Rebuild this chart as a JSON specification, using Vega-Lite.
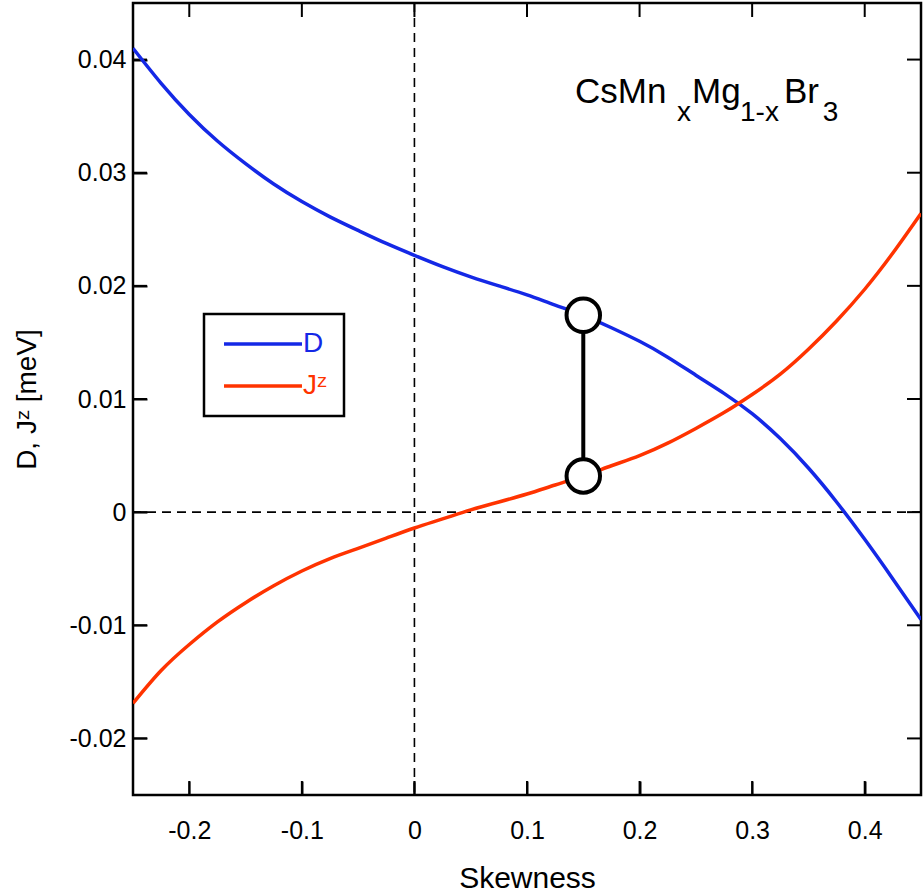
{
  "$schema": "https://vega.github.io/schema/vega-lite/v6.json",
  "width": 788,
  "height": 792,
  "autosize": {"type": "none"},
  "padding": {"left": 133, "top": 3, "right": 2, "bottom": 101},
  "background": "white",
  "config": {
    "font": "Liberation Sans",
    "view": {"stroke": "black", "strokeWidth": 2.5},
    "axis": {"grid": false, "domain": false, "zindex": 1, "labelColor": "black", "titleColor": "black", "labelFont": "Liberation Sans", "titleFont": "Liberation Sans", "titleFontWeight": "normal"}
  },
  "datasets": {
    "curves": [
      {"s": -0.25, "v": 0.0410, "series": "D"},
      {"s": -0.225, "v": 0.0379, "series": "D"},
      {"s": -0.2, "v": 0.03515, "series": "D"},
      {"s": -0.175, "v": 0.0328, "series": "D"},
      {"s": -0.15, "v": 0.0308, "series": "D"},
      {"s": -0.125, "v": 0.0290, "series": "D"},
      {"s": -0.1, "v": 0.02745, "series": "D"},
      {"s": -0.075, "v": 0.0261, "series": "D"},
      {"s": -0.05, "v": 0.0249, "series": "D"},
      {"s": -0.025, "v": 0.02375, "series": "D"},
      {"s": 0.0, "v": 0.0227, "series": "D"},
      {"s": 0.025, "v": 0.0217, "series": "D"},
      {"s": 0.05, "v": 0.0208, "series": "D"},
      {"s": 0.075, "v": 0.0200, "series": "D"},
      {"s": 0.1, "v": 0.0192, "series": "D"},
      {"s": 0.125, "v": 0.0183, "series": "D"},
      {"s": 0.15, "v": 0.0174, "series": "D"},
      {"s": 0.175, "v": 0.0163, "series": "D"},
      {"s": 0.2, "v": 0.0151, "series": "D"},
      {"s": 0.225, "v": 0.0137, "series": "D"},
      {"s": 0.25, "v": 0.0121, "series": "D"},
      {"s": 0.275, "v": 0.0105, "series": "D"},
      {"s": 0.3, "v": 0.0087, "series": "D"},
      {"s": 0.325, "v": 0.0065, "series": "D"},
      {"s": 0.35, "v": 0.0039, "series": "D"},
      {"s": 0.375, "v": 0.0009, "series": "D"},
      {"s": 0.4, "v": -0.0024, "series": "D"},
      {"s": 0.425, "v": -0.0059, "series": "D"},
      {"s": 0.45, "v": -0.0095, "series": "D"},
      {"s": -0.25, "v": -0.0169, "series": "Jᶻ"},
      {"s": -0.225, "v": -0.0140, "series": "Jᶻ"},
      {"s": -0.2, "v": -0.0117, "series": "Jᶻ"},
      {"s": -0.175, "v": -0.0097, "series": "Jᶻ"},
      {"s": -0.15, "v": -0.0080, "series": "Jᶻ"},
      {"s": -0.125, "v": -0.0065, "series": "Jᶻ"},
      {"s": -0.1, "v": -0.0052, "series": "Jᶻ"},
      {"s": -0.075, "v": -0.0041, "series": "Jᶻ"},
      {"s": -0.05, "v": -0.0032, "series": "Jᶻ"},
      {"s": -0.025, "v": -0.0023, "series": "Jᶻ"},
      {"s": 0.0, "v": -0.0014, "series": "Jᶻ"},
      {"s": 0.025, "v": -0.0006, "series": "Jᶻ"},
      {"s": 0.05, "v": 0.0002, "series": "Jᶻ"},
      {"s": 0.075, "v": 0.0009, "series": "Jᶻ"},
      {"s": 0.1, "v": 0.0016, "series": "Jᶻ"},
      {"s": 0.125, "v": 0.0024, "series": "Jᶻ"},
      {"s": 0.15, "v": 0.0032, "series": "Jᶻ"},
      {"s": 0.175, "v": 0.0041, "series": "Jᶻ"},
      {"s": 0.2, "v": 0.0050, "series": "Jᶻ"},
      {"s": 0.225, "v": 0.0061, "series": "Jᶻ"},
      {"s": 0.25, "v": 0.0074, "series": "Jᶻ"},
      {"s": 0.275, "v": 0.0088, "series": "Jᶻ"},
      {"s": 0.3, "v": 0.0104, "series": "Jᶻ"},
      {"s": 0.325, "v": 0.0122, "series": "Jᶻ"},
      {"s": 0.35, "v": 0.0144, "series": "Jᶻ"},
      {"s": 0.375, "v": 0.0169, "series": "Jᶻ"},
      {"s": 0.4, "v": 0.0197, "series": "Jᶻ"},
      {"s": 0.425, "v": 0.0229, "series": "Jᶻ"},
      {"s": 0.45, "v": 0.0264, "series": "Jᶻ"}
    ],
    "marker": [
      {"s": 0.15, "lo": 0.0032, "hi": 0.0174}
    ],
    "markerPts": [
      {"s": 0.15, "v": 0.0174},
      {"s": 0.15, "v": 0.0032}
    ],
    "zero": [{"z": 0}],
    "xticks": [{"t": -0.2}, {"t": -0.1}, {"t": 0}, {"t": 0.1}, {"t": 0.2}, {"t": 0.3}, {"t": 0.4}],
    "yticks": [{"t": -0.02}, {"t": -0.01}, {"t": 0}, {"t": 0.01}, {"t": 0.02}, {"t": 0.03}, {"t": 0.04}],
    "mainText": [
      {"s": 0.1427, "v": 0.03613, "t": "CsMn"},
      {"s": 0.2466, "v": 0.03613, "t": "Mg"},
      {"s": 0.3283, "v": 0.03613, "t": "Br"}
    ],
    "subText": [
      {"s": 0.2332, "v": 0.03459, "t": "x"},
      {"s": 0.2892, "v": 0.03459, "t": "1-x"},
      {"s": 0.3628, "v": 0.03459, "t": "3"}
    ]
  },
  "layer": [
    {
      "data": {"name": "zero"},
      "mark": {"type": "rule", "color": "black", "strokeWidth": 1.6, "strokeDash": [9, 6]},
      "encoding": {
        "x": {"field": "z", "type": "quantitative", "scale": {"domain": [-0.25, 0.45], "nice": false, "zero": false}, "axis": null}
      }
    },
    {
      "data": {"name": "zero"},
      "mark": {"type": "rule", "color": "black", "strokeWidth": 1.6, "strokeDash": [9, 6]},
      "encoding": {
        "y": {"field": "z", "type": "quantitative", "scale": {"domain": [-0.025, 0.045], "nice": false, "zero": false}, "axis": null}
      }
    },
    {
      "data": {"name": "yticks"},
      "mark": {"type": "tick", "orient": "horizontal", "size": 28, "thickness": 2, "color": "black", "opacity": 1, "clip": true},
      "encoding": {
        "x": {"datum": -0.25, "type": "quantitative", "scale": {"domain": [-0.25, 0.45], "nice": false, "zero": false}, "axis": null},
        "y": {"field": "t", "type": "quantitative", "scale": {"domain": [-0.025, 0.045], "nice": false, "zero": false}, "axis": null}
      }
    },
    {
      "data": {"name": "yticks"},
      "mark": {"type": "tick", "orient": "horizontal", "size": 28, "thickness": 2, "color": "black", "opacity": 1, "clip": true},
      "encoding": {
        "x": {"datum": 0.45, "type": "quantitative", "scale": {"domain": [-0.25, 0.45], "nice": false, "zero": false}, "axis": null},
        "y": {"field": "t", "type": "quantitative", "scale": {"domain": [-0.025, 0.045], "nice": false, "zero": false}, "axis": null}
      }
    },
    {
      "data": {"name": "xticks"},
      "mark": {"type": "tick", "orient": "vertical", "size": 28, "thickness": 2, "color": "black", "opacity": 1, "clip": true},
      "encoding": {
        "x": {"field": "t", "type": "quantitative", "scale": {"domain": [-0.25, 0.45], "nice": false, "zero": false}, "axis": null},
        "y": {"datum": -0.025, "type": "quantitative", "scale": {"domain": [-0.025, 0.045], "nice": false, "zero": false}, "axis": null}
      }
    },
    {
      "data": {"name": "xticks"},
      "mark": {"type": "tick", "orient": "vertical", "size": 28, "thickness": 2, "color": "black", "opacity": 1, "clip": true},
      "encoding": {
        "x": {"field": "t", "type": "quantitative", "scale": {"domain": [-0.25, 0.45], "nice": false, "zero": false}, "axis": null},
        "y": {"datum": 0.045, "type": "quantitative", "scale": {"domain": [-0.025, 0.045], "nice": false, "zero": false}, "axis": null}
      }
    },
    {
      "data": {"name": "curves"},
      "mark": {"type": "line", "strokeWidth": 3.5, "interpolate": "natural", "clip": true},
      "encoding": {
        "x": {"field": "s", "type": "quantitative", "scale": {"domain": [-0.25, 0.45], "nice": false, "zero": false},
          "axis": {"orient": "bottom", "offset": -14, "ticks": true, "tickSize": 14, "tickWidth": 2, "tickColor": "black", "values": [-0.2, -0.1, 0, 0.1, 0.2, 0.3, 0.4], "labelExpr": "'' + datum.value", "labelFontSize": 25, "labelPadding": 23, "title": "Skewness", "titleFontSize": 30, "titlePadding": 20}},
        "y": {"field": "v", "type": "quantitative", "scale": {"domain": [-0.025, 0.045], "nice": false, "zero": false},
          "axis": {"orient": "left", "offset": -14, "ticks": true, "tickSize": 14, "tickWidth": 2, "tickColor": "black", "values": [-0.02, -0.01, 0, 0.01, 0.02, 0.03, 0.04], "labelExpr": "'' + datum.value", "labelFontSize": 25, "labelPadding": 7, "title": "D, Jᶻ [meV]", "titleFontSize": 28, "titlePadding": 28}},
        "color": {"field": "series", "type": "nominal",
          "scale": {"domain": ["D", "Jᶻ"], "range": ["#1428e6", "#ff3300"]},
          "legend": {"orient": "none", "legendX": 71, "legendY": 311, "title": null, "symbolType": "M-4,0H4", "symbolSize": 380, "symbolStrokeWidth": 3.5, "symbolOffset": 29, "labelFontSize": 28, "labelOffset": 26, "padding": 16, "rowPadding": 14, "strokeColor": "black", "fillColor": "white",
            "encode": {"legend": {"update": {"strokeWidth": {"value": 2.5}}}, "labels": {"update": {"fill": {"scale": "color", "field": "value"}}}}}
        }
      }
    },
    {
      "data": {"name": "marker"},
      "mark": {"type": "rule", "color": "black", "strokeWidth": 4},
      "encoding": {
        "x": {"field": "s", "type": "quantitative", "scale": {"domain": [-0.25, 0.45], "nice": false, "zero": false}, "axis": null},
        "y": {"field": "lo", "type": "quantitative", "scale": {"domain": [-0.025, 0.045], "nice": false, "zero": false}, "axis": null},
        "y2": {"field": "hi"}
      }
    },
    {
      "data": {"name": "markerPts"},
      "mark": {"type": "point", "shape": "circle", "filled": true, "fill": "white", "stroke": "black", "strokeWidth": 4, "size": 1120, "opacity": 1},
      "encoding": {
        "x": {"field": "s", "type": "quantitative", "scale": {"domain": [-0.25, 0.45], "nice": false, "zero": false}, "axis": null},
        "y": {"field": "v", "type": "quantitative", "scale": {"domain": [-0.025, 0.045], "nice": false, "zero": false}, "axis": null}
      }
    },
    {
      "data": {"name": "mainText"},
      "mark": {"type": "text", "align": "left", "baseline": "alphabetic", "fontSize": 35, "font": "Liberation Sans", "color": "black"},
      "encoding": {
        "x": {"field": "s", "type": "quantitative", "scale": {"domain": [-0.25, 0.45], "nice": false, "zero": false}, "axis": null},
        "y": {"field": "v", "type": "quantitative", "scale": {"domain": [-0.025, 0.045], "nice": false, "zero": false}, "axis": null},
        "text": {"field": "t"}
      }
    },
    {
      "data": {"name": "subText"},
      "mark": {"type": "text", "align": "left", "baseline": "alphabetic", "fontSize": 28, "font": "Liberation Sans", "color": "black"},
      "encoding": {
        "x": {"field": "s", "type": "quantitative", "scale": {"domain": [-0.25, 0.45], "nice": false, "zero": false}, "axis": null},
        "y": {"field": "v", "type": "quantitative", "scale": {"domain": [-0.025, 0.045], "nice": false, "zero": false}, "axis": null},
        "text": {"field": "t"}
      }
    }
  ],
  "resolve": {"axis": {"x": "independent", "y": "independent"}}
}
